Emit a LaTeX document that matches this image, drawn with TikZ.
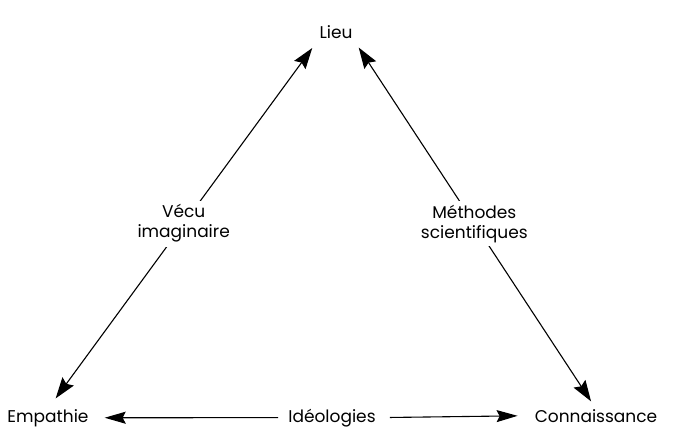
\documentclass[tikz,border=0pt]{standalone}
\usepackage{fontspec}
\setmainfont{Poppins}
\usetikzlibrary{arrows.meta, positioning}
\tikzset{
      every node/.style = {font=\fontsize{17}{20}\selectfont, inner sep=0pt},
      term/.style       = {anchor=base},
      edgelabel/.style  = {fill=white, align=center, inner sep=4pt},
      arrow/.style      = {{Stealth[length=21pt,width=14pt,inset=3pt]}-{Stealth[length=21pt,width=14pt,inset=3pt]}, line width=1.1pt},
      onearrow/.style   = {-{Stealth[length=21pt,width=12pt,inset=3pt]}, line width=1.1pt}
    }
\begin{document}
\begin{tikzpicture}[x=1pt,y=-1pt]
  \useasboundingbox (0,0) rectangle (675,437);
  % Corners of the triangle
  \node[term] (lieu) at (336,38) {Lieu};
  \node[term] (empathie) at (48,422) {Empathie};
  \node[term] (connaissance) at (596,422) {Connaissance};
  % Bottom label
  \node[term] (ideologies) at (332,422) {Idéologies};
  % Sides
  \draw[arrow, shorten <=13pt, shorten >=12pt] (empathie.north) -- node[edgelabel] (vecu) {Vécu\\imaginaire} (lieu.south west);
  \draw[arrow, shorten <=11pt, shorten >=9pt] (lieu.south east) -- node[edgelabel] (methodes) {Méthodes\\scientifiques} (connaissance.north);
  % Base
  \draw[onearrow, shorten <=10pt, shorten >=16pt] (ideologies.west) -- (empathie.east);
  \draw[onearrow, shorten <=14pt, shorten >=17pt] (ideologies.east) -- (connaissance.west);
\end{tikzpicture}
\end{document}
